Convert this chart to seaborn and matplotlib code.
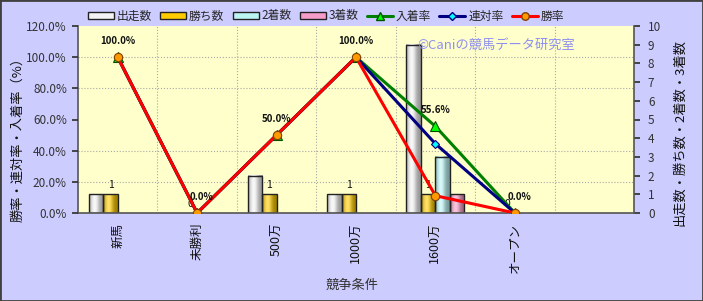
import numpy as np
import pandas as pd
import matplotlib
matplotlib.use("Agg")
import matplotlib.pyplot as plt
import seaborn as sns
from matplotlib.patches import Patch, Rectangle
from matplotlib.lines import Line2D

# ---------------- data ----------------
categories = ["新馬", "未勝利", "500万", "1000万", "1600万", "オープン"]
starts = [1, 0, 2, 1, 9, 0]          # 出走数
wins = [1, 0, 1, 1, 1, 0]            # 勝ち数
seconds = [0, 0, 0, 0, 3, 0]         # 2着数
thirds = [0, 0, 0, 0, 1, 0]          # 3着数
place_rate = [100.0, 0.0, 50.0, 100.0, 55.6, 0.0]     # 入着率
quinella_rate = [100.0, 0.0, 50.0, 100.0, 44.4, 0.0]  # 連対率
win_rate = [100.0, 0.0, 50.0, 100.0, 11.1, 0.0]       # 勝率
bar_series = ["出走数", "勝ち数", "2着数", "3着数"]
rate_series = ["入着率", "連対率", "勝率"]
pct_ticks = [0, 20, 40, 60, 80, 100, 120]
count_ticks = list(range(0, 11))
n_slots = 7

# ---------------- style ----------------
sns.set_theme(style="white")
plt.rcParams["font.family"] = ["Noto Sans CJK JP", "DejaVu Sans"]
plt.rcParams["axes.unicode_minus"] = False

bar_colors = {"出走数": "#F4F4F4", "勝ち数": "#FFCC00", "2着数": "#BDF5F5", "3着数": "#F59CC8"}
line_styles = {
    "入着率": dict(color="#008000", marker="^", mfc="#00FF00", mec="#005000", ms=7),
    "連対率": dict(color="#000080", marker="D", mfc="#00FFFF", mec="#000080", ms=4.5),
    "勝率": dict(color="#FF0000", marker="o", mfc="#FF9900", mec="#804000", ms=6),
}

W, H = 703, 301
fig = plt.figure(figsize=(W / 100, H / 100), dpi=100, facecolor="#CCCCFF")
ax = fig.add_axes([78 / W, 1 - 213 / H, 556 / W, 187 / H])
ax.set_facecolor("#FFFFCC")

# ---------------- bars (count axis) ----------------
df_bars = pd.DataFrame({
    "条件": categories * len(bar_series),
    "系列": np.repeat(bar_series, len(categories)),
    "数": starts + wins + seconds + thirds,
})
sns.barplot(data=df_bars, x="条件", y="数", hue="系列", order=categories,
            hue_order=bar_series, palette=bar_colors, width=0.73,
            edgecolor="#222222", linewidth=1.0, saturation=1,
            legend=False, ax=ax)

# cylinder-like shading of each bar
t = np.linspace(0, 1, 64)
light = np.exp(-((t - 0.38) / 0.28) ** 2)
for p in list(ax.patches):
    h = p.get_height()
    if h <= 0:
        p.set_facecolor("none")
        p.set_edgecolor("none")
        continue
    base = np.array(p.get_facecolor()[:3])
    shade = base[None, :] * (0.62 + 0.38 * light[:, None])
    shade = shade + (1 - shade) * 0.4 * light[:, None]
    img = np.tile(np.clip(shade, 0, 1)[None, :, :], (2, 1, 1))
    x0, y0 = p.get_xy()
    w = p.get_width()
    ax.imshow(img, extent=[x0, x0 + w, y0, y0 + h], aspect="auto",
              interpolation="bilinear", zorder=p.get_zorder())
    p.set_facecolor("none")
    p.set_zorder(p.get_zorder() + 0.5)

ax.bar_label(ax.containers[1], labels=[str(v) for v in wins], padding=3,
             fontsize=7.5, color="#111111")

# ---------------- lines (percentage axis) ----------------
ax2 = ax.twinx()
rate_df = pd.DataFrame({"条件": categories, "入着率": place_rate,
                        "連対率": quinella_rate, "勝率": win_rate})
for name in rate_series:
    st = line_styles[name]
    sns.pointplot(data=rate_df, x="条件", y=name, order=categories,
                  color=st["color"], markers=st["marker"], linestyles="-",
                  errorbar=None, ax=ax2, linewidth=2.2, markersize=st["ms"],
                  markerfacecolor=st["mfc"], markeredgecolor=st["mec"],
                  markeredgewidth=0.8)

for i, v in enumerate(place_rate):
    dx = 3 if v == 0 else 0
    ax2.annotate(f"{v:.1f}%", (i, v), xytext=(dx, 8), textcoords="offset points",
                 ha="center", va="bottom", fontsize=7, fontweight="bold",
                 color="#111111")

# ---------------- axes ----------------
ax.set_xlim(-0.5, n_slots - 0.5)
ax2.set_xlim(-0.5, n_slots - 0.5)
ax.set_ylim(0, 10)
ax2.set_ylim(0, 120)

ax.yaxis.tick_right()
ax2.yaxis.tick_left()
ax.set_yticks(count_ticks)
ax.set_yticklabels([str(v) for v in count_ticks])
ax2.set_yticks(pct_ticks)
ax2.set_yticklabels([f"{v:.1f}%" for v in pct_ticks])
ax.set_xticks(range(len(categories)))
ax.set_xticklabels(categories, rotation=90, fontsize=9, color="#111111")
ax.set_xlabel("")
ax.set_ylabel("")
ax2.set_xlabel("")
ax2.set_ylabel("")

ax.tick_params(axis="y", which="major", length=4, direction="out", labelsize=8.5,
               labelcolor="#333333", color="#333333", pad=6)
ax2.tick_params(axis="y", which="major", length=4, direction="out", labelsize=8.5,
                labelcolor="#333333", color="#333333", pad=4)
ax.tick_params(axis="x", which="major", length=0, pad=7)

# grid
ax.set_yticks(np.linspace(0, 10, len(pct_ticks)), minor=True)
ax.set_xticks(np.arange(0.5, n_slots - 1, 1), minor=True)
ax.tick_params(which="minor", length=0)
ax.grid(False)
ax.grid(which="minor", axis="both", color="#A8A8A8", linestyle=":", linewidth=0.8)
ax.set_axisbelow(True)

for s in ["left", "bottom", "right"]:
    ax.spines[s].set_color("#555555")
    ax.spines[s].set_linewidth(1.2)
ax.spines["top"].set_visible(False)
for s in ax2.spines.values():
    s.set_visible(False)

# ---------------- texts ----------------
fig.text(18 / W, 1 - 136 / H, "勝率・連対率・入着率（%）", rotation=90,
         ha="center", va="center", fontsize=9.5, color="#111111")
fig.text(680 / W, 1 - 133 / H, "出走数・勝ち数・2着数・3着数", rotation=90,
         ha="center", va="center", fontsize=9.5, color="#111111")
fig.text(352 / W, 1 - 285 / H, "競争条件", ha="center", va="center",
         fontsize=9.5, color="#333333")
fig.text(417 / W, 1 - 45 / H, "©Caniの競馬データ研究室", ha="left", va="center",
         fontsize=9.5, color="#8F8FF0")

handles = [Patch(facecolor=bar_colors[s], edgecolor="#222222", linewidth=1.0)
           for s in bar_series]
for name in rate_series:
    st = line_styles[name]
    handles.append(Line2D([], [], color=st["color"], marker=st["marker"],
                          markerfacecolor=st["mfc"], markeredgecolor=st["mec"],
                          markersize=st["ms"] * 0.9, linewidth=2.2))
fig.legend(handles, bar_series + rate_series, loc="center",
           bbox_to_anchor=(326 / W, 1 - 16 / H), ncol=7, frameon=False,
           fontsize=8.5, handlelength=2.2, handleheight=0.55,
           columnspacing=0.7, handletextpad=0.25)

fig.add_artist(Rectangle((0, 0), 1, 1, transform=fig.transFigure, fill=False,
                         edgecolor="#404040", linewidth=2))

fig.savefig("out.png", dpi=100, facecolor=fig.get_facecolor())
